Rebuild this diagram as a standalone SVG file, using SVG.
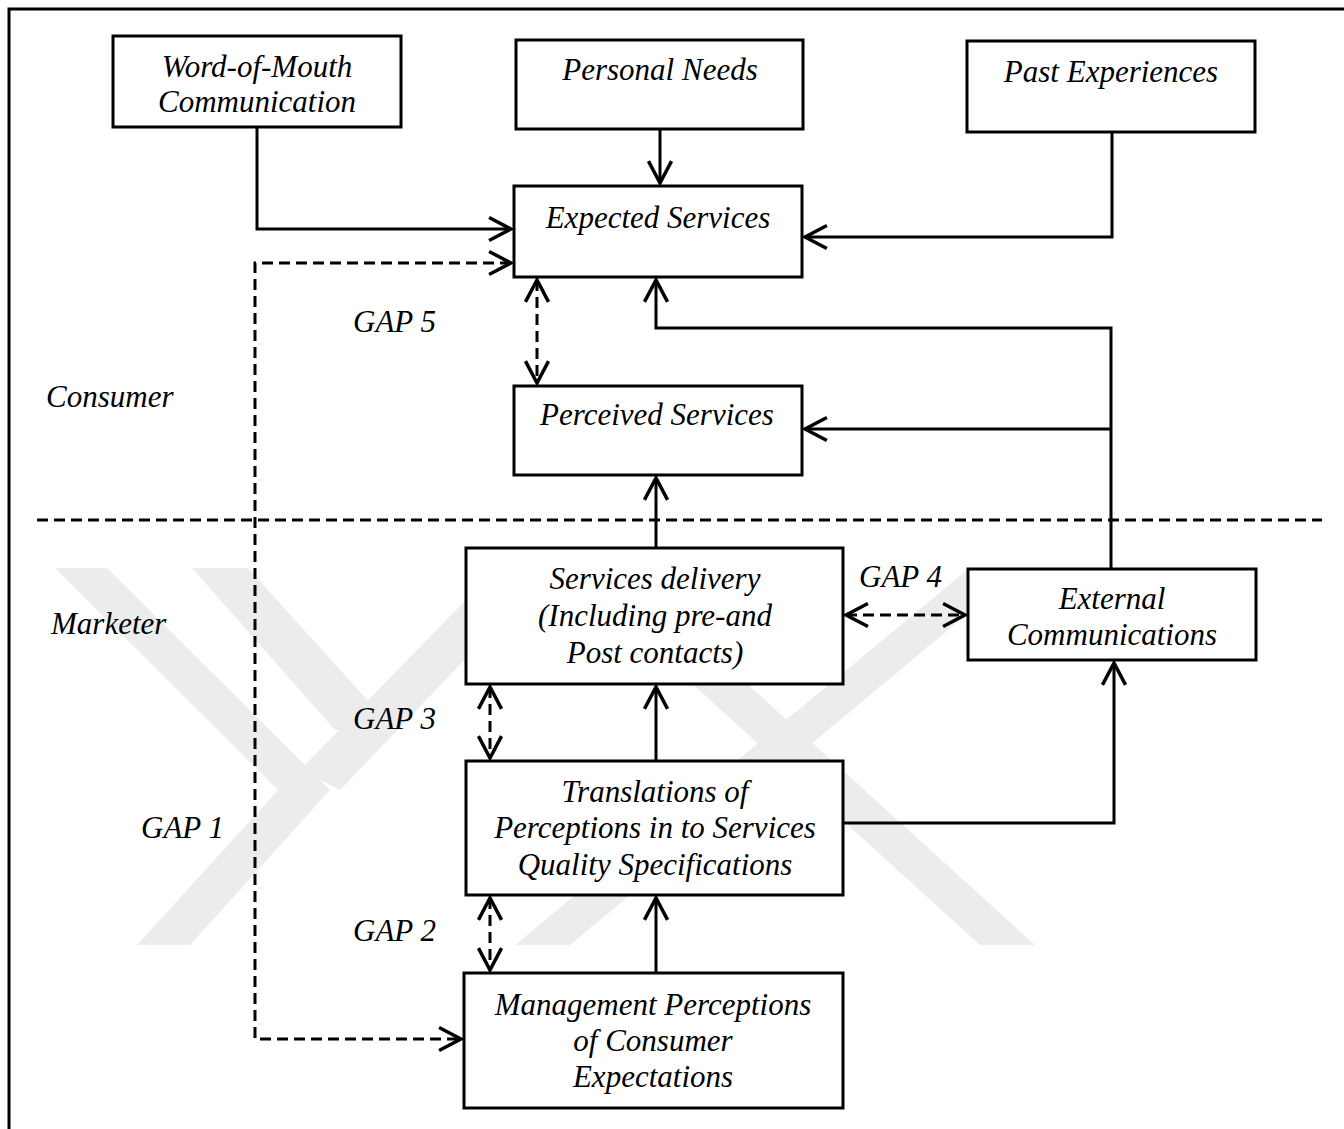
<svg xmlns="http://www.w3.org/2000/svg" width="1344" height="1129" viewBox="0 0 1344 1129">
<style>
.box{fill:#fff;stroke:#000;stroke-width:3}
.t{font-family:"Liberation Serif","Times New Roman",serif;font-style:italic;font-size:31px;fill:#000}
.c{text-anchor:middle}
.ln{fill:none;stroke:#000;stroke-width:3}
.ds{fill:none;stroke:#000;stroke-width:3;stroke-dasharray:11 6}
.wm{fill:#ececec}
</style>
<defs>
<marker id="ah" markerUnits="userSpaceOnUse" markerWidth="30" markerHeight="30" refX="0" refY="0" viewBox="-22 -13 26 26" orient="auto-start-reverse" overflow="visible">
<path d="M-19,-10 L0,0 L-19,10" fill="none" stroke="#000" stroke-width="3"/>
</marker>
</defs>
<rect x="0" y="0" width="1344" height="1129" fill="#fff"/>
<g id="watermark">
<polygon class="wm" points="55,568 107,568 330,790 278,790"/>
<polygon class="wm" points="278,790 330,790 190,945 137,945"/>
<polygon class="wm" points="192,568 248,568 390,725 335,730"/>
<polygon class="wm" points="300,770 340,790 560,560 505,560"/>
<polygon class="wm" points="967,570 1020,570 570,945 515,945"/>
<polygon class="wm" points="600,600 655,600 1035,945 980,945"/>
</g>
<path class="ln" d="M9,1129 V9 H1344"/>
<g id="connectors">
<path class="ln" d="M257,127 V229 H511" marker-end="url(#ah)"/>
<path class="ln" d="M660,129 V183" marker-end="url(#ah)"/>
<path class="ln" d="M1112,132 V237 H805" marker-end="url(#ah)"/>
<path class="ln" d="M1111,569 V328 H656 V280" marker-end="url(#ah)"/>
<path class="ln" d="M1111,429 H805" marker-end="url(#ah)"/>
<path class="ln" d="M656,548 V478" marker-end="url(#ah)"/>
<path class="ln" d="M656,761 V687" marker-end="url(#ah)"/>
<path class="ln" d="M656,973 V898" marker-end="url(#ah)"/>
<path class="ln" d="M843,823 H1114 V663" marker-end="url(#ah)"/>
<path class="ds" d="M511,263 H255 V1039 H461" marker-start="url(#ah)" marker-end="url(#ah)"/>
<path class="ds" d="M537,280 V383" marker-start="url(#ah)" marker-end="url(#ah)"/>
<path class="ds" d="M490,687 V758" marker-start="url(#ah)" marker-end="url(#ah)"/>
<path class="ds" d="M490,898 V970" marker-start="url(#ah)" marker-end="url(#ah)"/>
<path class="ds" d="M846,615 H965" marker-start="url(#ah)" marker-end="url(#ah)"/>
<path class="ds" d="M37,520 H1322"/>
</g>
<g id="word-of-mouth">
<rect class="box" x="113" y="36" width="288" height="91"/>
<text class="t c" x="257" y="77">Word-of-Mouth</text>
<text class="t c" x="257" y="112">Communication</text>
</g>
<g id="personal-needs">
<rect class="box" x="516" y="40" width="287" height="89"/>
<text class="t c" x="660" y="80">Personal Needs</text>
</g>
<g id="past-experiences">
<rect class="box" x="967" y="41" width="288" height="91"/>
<text class="t c" x="1111" y="82">Past Experiences</text>
</g>
<g id="expected-services">
<rect class="box" x="514" y="186" width="288" height="91"/>
<text class="t c" x="658" y="228">Expected Services</text>
</g>
<g id="perceived-services">
<rect class="box" x="514" y="386" width="288" height="89"/>
<text class="t c" x="657" y="425">Perceived Services</text>
</g>
<g id="services-delivery">
<rect class="box" x="466" y="548" width="377" height="136"/>
<text class="t c" x="655" y="589">Services delivery</text>
<text class="t c" x="655" y="626">(Including pre-and</text>
<text class="t c" x="655" y="663">Post contacts)</text>
</g>
<g id="external-communications">
<rect class="box" x="968" y="569" width="288" height="91"/>
<text class="t c" x="1112" y="609">External</text>
<text class="t c" x="1112" y="645">Communications</text>
</g>
<g id="translations">
<rect class="box" x="466" y="761" width="377" height="134"/>
<text class="t c" x="655" y="802">Translations of</text>
<text class="t c" x="655" y="838">Perceptions in to Services</text>
<text class="t c" x="655" y="875">Quality Specifications</text>
</g>
<g id="management">
<rect class="box" x="464" y="973" width="379" height="135"/>
<text class="t c" x="653" y="1015">Management Perceptions</text>
<text class="t c" x="653" y="1051">of Consumer</text>
<text class="t c" x="653" y="1087">Expectations</text>
</g>
<g id="labels">
<text class="t" x="46" y="407">Consumer</text>
<text class="t" x="51" y="634">Marketer</text>
<text class="t" x="353" y="332">GAP 5</text>
<text class="t" x="353" y="729">GAP 3</text>
<text class="t" x="141" y="838">GAP 1</text>
<text class="t" x="353" y="941">GAP 2</text>
<text class="t" x="859" y="587">GAP 4</text>
</g>
</svg>
